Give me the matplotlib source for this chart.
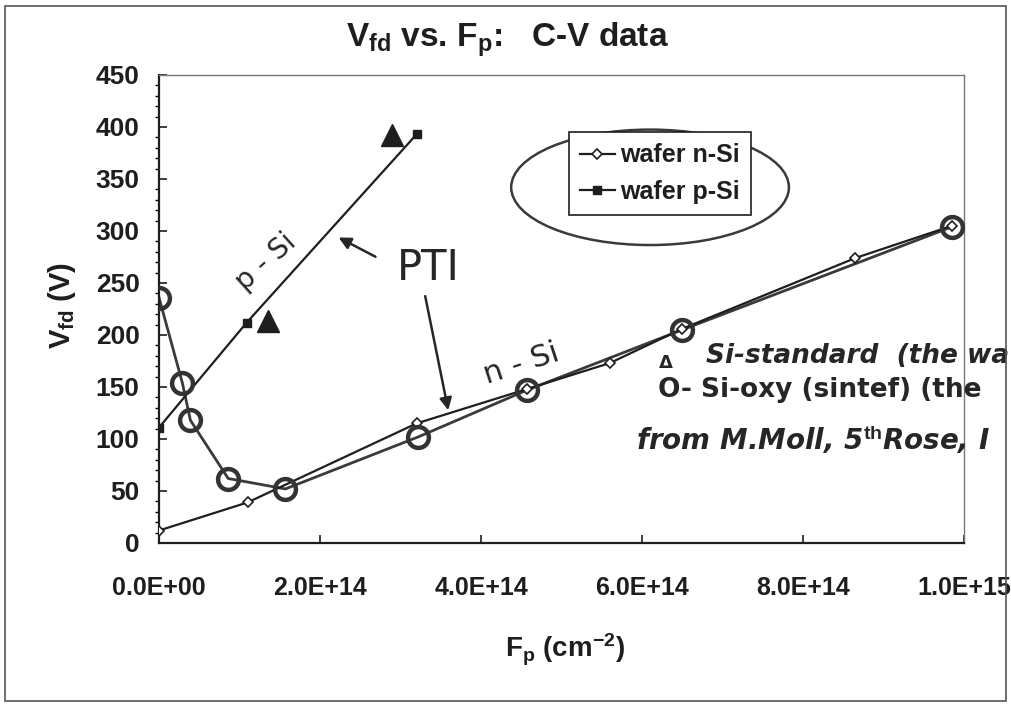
import matplotlib
matplotlib.use("Agg")
import matplotlib.pyplot as plt
from matplotlib.patches import Ellipse, Rectangle
from matplotlib.ticker import FuncFormatter, MultipleLocator

# ---------------- data ----------------
n_si_fluence = [0.0, 1.1e14, 3.2e14, 4.57e14, 5.6e14, 6.5e14, 8.65e14, 9.85e14]
n_si_vfd = [12, 39, 115, 148, 173, 206, 274, 305]

p_si_fluence = [0.0, 1.09e14, 3.2e14]
p_si_vfd = [111, 212, 393]

# hand-drawn annotations on the printout
oxy_fluence = [0.0, 0.29e14, 0.39e14, 0.86e14, 1.57e14, 3.22e14, 4.57e14, 6.5e14, 9.85e14]
oxy_vfd = [236, 154, 118, 62, 52, 102, 147, 205, 304]
std_fluence = [1.35e14, 2.9e14]
std_vfd = [213, 392]

x_ticks = [0, 2e14, 4e14, 6e14, 8e14, 1e15]
y_ticks = [0, 50, 100, 150, 200, 250, 300, 350, 400, 450]

# ---------------- style ----------------
ink = "#1e1e1e"
pen = "#262626"
plt.rcParams["font.family"] = ["Liberation Sans", "DejaVu Sans"]
plt.rcParams["mathtext.fontset"] = "custom"
plt.rcParams["mathtext.rm"] = "Liberation Sans:bold"
plt.rcParams["mathtext.bf"] = "Liberation Sans:bold"
plt.rcParams["mathtext.it"] = "Liberation Sans:bold"

fig = plt.figure(figsize=(10.11, 7.05), dpi=100)
ax = fig.add_axes([159 / 1011, 1 - 543 / 705, (964 - 159) / 1011, (543 - 75) / 705])

# page border of the scan
fig.add_artist(Rectangle((0.005, 0.006), 0.99, 0.985, transform=fig.transFigure,
                         fill=False, edgecolor="#555555", lw=1.2))

ax.set_xlim(0, 1e15)
ax.set_ylim(0, 450)

# handwritten Si-oxy trace (under data)
ax.plot(oxy_fluence, oxy_vfd, color="#3a3a3a", lw=2.0, zorder=2)
ax.plot(oxy_fluence, oxy_vfd, ls="none", marker="o", ms=15, mfc="none",
        mec="#333333", mew=3.2, zorder=4)
ax.plot(std_fluence, std_vfd, ls="none", marker="^", ms=16, color=ink, zorder=4)

# printed series
ax.plot(n_si_fluence, n_si_vfd, color=ink, lw=1.6, marker="D", ms=5, mfc="white",
        mec=ink, mew=1.2, label="wafer n-Si", zorder=3)
ax.plot(p_si_fluence, p_si_vfd, color=ink, lw=1.6, marker="s", ms=6, mfc=ink,
        mec=ink, label="wafer p-Si", zorder=3)

ax.set_xticks(x_ticks)
ax.set_yticks(y_ticks)
ax.yaxis.set_minor_locator(MultipleLocator(10))
ax.xaxis.set_major_formatter(FuncFormatter(lambda v, p: "%.1E" % v))
ax.tick_params(axis="both", direction="in", colors=ink, labelsize=18, width=1.2)
ax.tick_params(axis="y", which="major", length=6, pad=14, labelsize=19)
ax.tick_params(axis="y", which="minor", length=3, width=1)
ax.tick_params(axis="x", which="major", length=6, pad=24)
for lab in ax.get_xticklabels() + ax.get_yticklabels():
    lab.set_fontweight("bold")

ax.spines["left"].set_color(ink)
ax.spines["left"].set_linewidth(1.6)
ax.spines["bottom"].set_color(ink)
ax.spines["bottom"].set_linewidth(1.6)
ax.spines["top"].set_color("#777777")
ax.spines["top"].set_linewidth(1.0)
ax.spines["right"].set_color("#777777")
ax.spines["right"].set_linewidth(1.0)

fig.text(507 / 1011, 1 - 40 / 705, r"V$_{\mathrm{fd}}$ vs. F$_{\mathrm{p}}$:   C-V data",
         ha="center", va="center", fontsize=24, fontweight="bold", color=ink)
fig.text(62 / 1011, 1 - 305 / 705, r"V$_{\mathrm{fd}}$ (V)", rotation=90,
         ha="center", va="center", fontsize=21, fontweight="bold", color=ink)
fig.text(565 / 1011, 1 - 650 / 705, r"F$_{\mathrm{p}}$ (cm$^{\mathrm{-2}}$)",
         ha="center", va="center", fontsize=20, fontweight="bold", color=ink)

leg = ax.legend(loc="upper left", bbox_to_anchor=(0.509, 0.878), fontsize=18,
                frameon=True, fancybox=False, edgecolor=ink, framealpha=1,
                handlelength=1.4, handletextpad=0.2, borderpad=0.45,
                labelspacing=0.5, borderaxespad=0)
leg.get_frame().set_linewidth(1.2)
for t in leg.get_texts():
    t.set_fontweight("bold")
    t.set_color(ink)

# hand-drawn ellipse around legend
ax.add_patch(Ellipse((6.1e14, 342), 3.45e14, 111, fill=False, edgecolor="#3a3a3a",
                     lw=1.8, zorder=5))

# handwriting
hw = dict(color=pen, family=["DejaVu Sans"], zorder=6)
ax.text(1.33e14, 270, "p - Si", rotation=42, fontsize=20, ha="center", va="center", **hw)
ax.text(3.35e14, 264, "PTI", fontsize=30, ha="center", va="center", **hw)
ax.annotate("", xy=(2.2e14, 295), xytext=(2.72e14, 274),
            arrowprops=dict(arrowstyle="-|>", color=pen, lw=1.8, mutation_scale=18))
ax.annotate("", xy=(3.6e14, 125), xytext=(3.3e14, 240),
            arrowprops=dict(arrowstyle="-|>", color=pen, lw=1.8, mutation_scale=18))
ax.text(4.5e14, 172, "n - Si", rotation=18, fontsize=22, ha="center", va="center", **hw)
ax.text(6.3e14, 173, "Δ", fontsize=13, ha="center", va="center", fontweight="bold", **hw)
ax.text(6.8e14, 180, "Si-standard  (the wa", fontsize=19, ha="left", va="center",
        style="italic", fontweight="bold", **hw)
ax.text(6.2e14, 147, "O- Si-oxy (sintef) (the", fontsize=19, ha="left", va="center",
        fontweight="bold", **hw)
ax.text(5.93e14, 99, "from M.Moll, 5$^{th}$Rose, I", fontsize=20, ha="left", va="center",
        style="italic", fontweight="bold", **hw)

fig.savefig("out.png", dpi=100, facecolor="white")
